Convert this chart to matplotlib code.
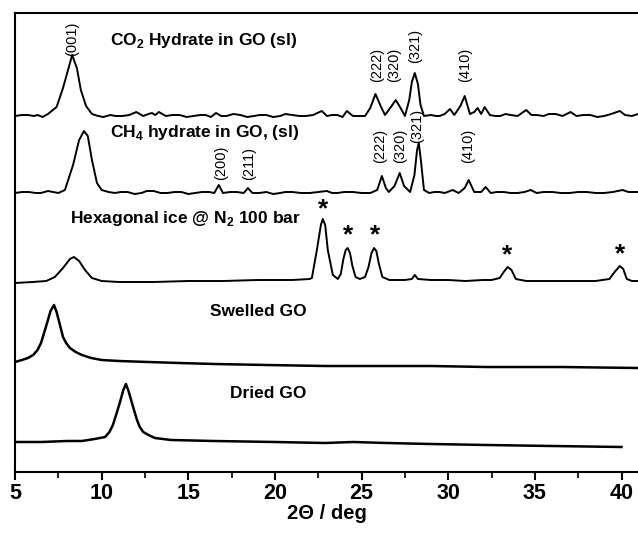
import matplotlib
matplotlib.use("Agg")
import matplotlib.pyplot as plt
from matplotlib.ticker import MultipleLocator

plt.rcParams['font.family'] = ['Liberation Sans', 'DejaVu Sans']
plt.rcParams['mathtext.fontset'] = 'custom'
plt.rcParams['mathtext.rm'] = 'Liberation Sans'
plt.rcParams['mathtext.bf'] = 'Liberation Sans:bold'

# XRD patterns (2theta in deg, intensity in a.u. incl. stacking offset)
tt_co2 = [5.0, 5.4, 5.75, 6.1, 6.3, 6.6, 6.9, 7.4, 7.77, 8.06, 8.3, 8.57, 8.8, 9.1, 9.44, 9.8, 10.1,
          10.5, 10.8, 11.2, 11.6, 12.0, 12.4, 12.7, 12.9, 13.1, 13.3, 13.7, 14.1, 14.5, 14.9, 15.3,
          15.7, 16.0, 16.3, 16.6, 16.9, 17.2, 17.6, 18.0, 18.4, 18.8, 19.1, 19.5, 19.9, 20.3, 20.6,
          21.0, 21.4, 21.8, 22.2, 22.7, 23.0, 23.3, 23.6, 23.9, 24.15, 24.5, 24.8, 25.2, 25.5, 25.8,
          26.1, 26.35, 26.65, 26.97, 27.25, 27.5, 27.75, 27.9, 28.07, 28.25, 28.4, 28.6, 29.0, 29.3,
          29.5, 29.8, 30.1, 30.35, 30.7, 30.95, 31.25, 31.5, 31.7, 31.9, 32.1, 32.4, 32.7, 33.0, 33.3,
          33.6, 34.0, 34.5, 34.8, 35.1, 35.5, 35.8, 36.2, 36.6, 37.06, 37.4, 37.8, 38.2, 38.6, 39.0,
          39.4, 39.9, 40.2, 40.6, 40.95]
i_co2 = [356, 357, 357, 356, 357, 355, 358, 365, 384, 402, 417, 404, 382, 366, 358, 356, 355,
         357, 356, 356, 357, 360, 356, 358, 359, 357, 360, 356, 357, 357, 355, 356,
         357, 357, 355, 359, 356, 356, 358, 357, 355, 356, 357, 357, 355, 356, 358,
         357, 356, 356, 357, 361, 356, 357, 357, 355, 361, 356, 356, 356, 364, 378,
         366, 357, 364, 372, 364, 356, 372, 390, 399, 388, 367, 356, 357, 356,
         356, 358, 363, 357, 366, 376, 358, 360, 364, 358, 365, 357, 356, 356, 358,
         357, 356, 362, 357, 357, 356, 358, 358, 356, 360, 356, 357, 357, 355, 356,
         358, 361, 357, 356, 358]

tt_ch4 = [5.0, 5.4, 5.8, 6.2, 6.5, 6.9, 7.2, 7.5, 7.88, 8.35, 8.7, 8.98, 9.2, 9.44, 9.73, 10.0,
          10.4, 10.77, 11.1, 11.5, 11.9, 12.3, 12.6, 13.0, 13.4, 13.8, 14.2, 14.6, 15.0, 15.4, 15.8,
          16.2, 16.5, 16.76, 17.0, 17.4, 17.8, 18.2, 18.44, 18.7, 19.1, 19.5, 19.9, 20.3, 20.6, 21.0,
          21.5, 22.0, 22.5, 23.0, 23.3, 23.6, 24.0, 24.5, 25.0, 25.5, 25.9, 26.17, 26.4, 26.57, 26.9,
          27.2, 27.45, 27.8, 28.05, 28.2, 28.3, 28.42, 28.6, 28.9, 29.2, 29.5, 29.8, 30.26, 30.6,
          30.95, 31.18, 31.5, 31.9, 32.16, 32.45, 32.8, 33.2, 33.6, 34.0, 34.4, 34.76, 35.1, 35.5,
          36.0, 36.5, 37.0, 37.5, 38.0, 38.5, 39.0, 39.5, 40.06, 40.4, 40.95]
i_ch4 = [279, 280, 280, 279, 279, 281, 280, 279, 282, 307, 332, 341, 336, 312, 289, 282,
         280, 279, 280, 280, 278, 279, 281, 281, 279, 279, 280, 280, 278, 279, 280,
         280, 279, 287, 279, 280, 280, 279, 284, 279, 279, 280, 278, 279, 280, 280,
         279, 279, 280, 281, 279, 279, 280, 280, 279, 279, 282, 296, 284, 280, 286,
         299, 286, 280, 297, 322, 329, 312, 282, 279, 280, 280, 279, 282, 279,
         284, 292, 280, 280, 285, 279, 280, 280, 279, 279, 280, 282, 279, 280,
         280, 279, 279, 280, 280, 279, 279, 280, 282, 280, 280]

tt_ice = [5.0, 6.0, 6.8, 7.3, 7.77, 8.17, 8.4, 8.7, 9.04, 9.44, 10.0, 11.0, 13.0, 15.0, 17.0, 19.0,
          21.0, 22.0, 22.13, 22.42, 22.65, 22.76, 22.9, 23.05, 23.34, 23.63, 23.8, 23.95, 24.08, 24.2,
          24.33, 24.47, 24.65, 24.9, 25.2, 25.4, 25.57, 25.72, 25.85, 26.0, 26.2, 26.6, 27.5, 27.9,
          28.07, 28.25, 29.0, 30.0, 31.0, 32.0, 32.5, 32.97, 33.2, 33.43, 33.65, 33.9, 34.5, 35.5,
          36.5, 37.5, 38.5, 39.3, 39.6, 39.9, 40.1, 40.3, 40.6, 40.95]
i_ice = [189, 190, 191, 195, 204, 213, 215, 211, 202, 194, 191, 190, 190, 191, 191, 192,
         192, 193, 194, 222, 247, 253, 247, 222, 197, 193, 198, 213, 222, 224,
         219, 206, 195, 193, 195, 205, 219, 224, 221, 208, 195, 192, 192, 193,
         197, 193, 192, 192, 191, 192, 192, 194, 200, 205, 202, 193, 191, 191,
         191, 191, 191, 193, 200, 206, 203, 193, 191, 191]

tt_swell = [5.0, 5.4, 5.75, 6.05, 6.3, 6.5, 6.73, 6.9, 7.05, 7.25, 7.4, 7.55, 7.77, 7.95, 8.17, 8.5,
            8.86, 9.4, 10.0, 11.0, 12.67, 14.5, 16.5, 19.5, 22.9, 26.0, 29.0, 32.2, 36.5, 40.95]
i_swell = [110, 112, 114, 117, 122, 129, 142, 152, 161, 167, 160, 150, 135, 129, 124, 120,
           117, 114, 112, 111, 110, 109, 108, 107, 106, 106, 106, 105, 105, 104]

tt_dry = [5.1, 6.5, 8.0, 8.86, 9.6, 10.2, 10.45, 10.65, 10.85, 11.06, 11.25, 11.4, 11.55, 11.7, 11.9,
          12.04, 12.2, 12.4, 12.7, 13.07, 14.0, 16.5, 20.0, 22.9, 24.5, 26.45, 29.0, 32.2, 36.0, 40.0]
i_dry = [30, 30, 31, 31, 33, 35, 40, 47, 58, 70, 82, 88, 81, 72, 60,
         52, 45, 40, 37, 34, 32, 31, 30, 29, 30, 29, 28, 27, 26, 25]

# hkl reflections of sI hydrate
hkl_co2 = ['(001)', '(222)', '(320)', '(321)', '(410)']
hkl_co2_x = [8.29, 25.88, 26.9, 28.07, 30.95]
hkl_co2_y = [416, 390, 390, 409, 390]
hkl_ch4 = ['(200)', '(211)', '(222)', '(320)', '(321)', '(410)']
hkl_ch4_x = [16.88, 18.5, 26.05, 27.2, 28.18, 31.12]
hkl_ch4_y = [292, 292, 309, 309, 329, 309]

# hexagonal ice reflections (asterisks)
ice_x = [22.8, 24.2, 25.8, 33.4, 39.9]
ice_y = [263, 237, 237, 217, 218]

fig = plt.figure(figsize=(6.38, 5.34), dpi=100)
ax = fig.add_axes([15/638, 62/534, 623/638, 459/534])

lw = 1.4
ax.plot(tt_co2, i_co2, color='black', lw=lw)
ax.plot(tt_ch4, i_ch4, color='black', lw=lw)
ax.plot(tt_ice, i_ice, color='black', lw=lw)
ax.plot(tt_swell, i_swell, color='black', lw=1.8)
ax.plot(tt_dry, i_dry, color='black', lw=1.8)

lab_kw = dict(fontsize=12.5, fontweight='bold', va='center', ha='left')
ax.text(10.48, 432, r'CO$_\mathbf{2}$ Hydrate in GO (sl)', **lab_kw)
ax.text(10.48, 339, r'CH$_\mathbf{4}$ hydrate in GO, (sl)', **lab_kw)
ax.text(8.17, 254, r'Hexagonal ice @ N$_\mathbf{2}$ 100 bar', **lab_kw)
ax.text(16.25, 160, 'Swelled GO', **lab_kw)
ax.text(17.4, 79, 'Dried GO', **lab_kw)

for s, x, y in zip(hkl_co2, hkl_co2_x, hkl_co2_y):
    ax.text(x, y, s, rotation=90, fontsize=10.5, ha='center', va='bottom')
for s, x, y in zip(hkl_ch4, hkl_ch4_x, hkl_ch4_y):
    ax.text(x, y, s, rotation=90, fontsize=10.5, ha='center', va='bottom')
for x, y in zip(ice_x, ice_y):
    ax.text(x, y, '*', fontsize=19, fontweight='bold', ha='center', va='center')

ax.set_xlim(5, 40.95)
ax.set_ylim(0, 459)
ax.set_yticks([])
ax.xaxis.set_major_locator(MultipleLocator(5))
ax.xaxis.set_minor_locator(MultipleLocator(2.5))
ax.tick_params(axis='x', which='major', direction='out', length=6, width=1.5, pad=2,
               labelsize=15.5)
ax.tick_params(axis='x', which='minor', direction='out', length=4, width=1.2)
for lbl in ax.get_xticklabels():
    lbl.set_fontweight('bold')
ax.spines['right'].set_visible(False)
for sp in ['top', 'left', 'bottom']:
    ax.spines[sp].set_linewidth(1.5)
ax.set_xlabel('2Θ / deg', fontsize=14.5, fontweight='bold', labelpad=0)

fig.savefig('out.png', dpi=100)
